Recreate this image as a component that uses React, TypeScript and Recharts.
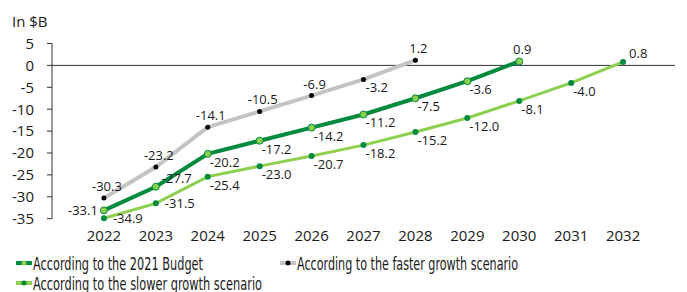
import { Line, LineChart, ReferenceLine, XAxis, YAxis } from "recharts";

const years = [2022, 2023, 2024, 2025, 2026, 2027, 2028, 2029, 2030, 2031, 2032];
const budget = [-33.1, -27.7, -20.2, -17.2, -14.2, -11.2, -7.5, -3.6, 0.9];
const faster = [-30.3, -23.2, -14.1, -10.5, -6.9, -3.2, 1.2];
const slower = [-34.9, -31.5, -25.4, -23.0, -20.7, -18.2, -15.2, -12.0, -8.1, -4.0, 0.8];
const yTicks = [5, 0, -5, -10, -15, -20, -25, -30, -35];

// where each value label sits relative to its point
const budgetPlace = ["left", "rightAbove", "rightBelow", "rightBelow", "rightBelow", "rightBelow", "rightBelow", "rightBelow", "above"];
const fasterPlace = ["above", "above", "above", "above", "above", "rightBelow", "above"];
const slowerPlace = ["right", "right", "rightBelow", "rightBelow", "rightBelow", "rightBelow", "rightBelow", "rightBelow", "rightBelow", "rightBelow", "rightAbove"];

const data = years.map((year, i) => ({
  year,
  budget: budget[i],
  faster: faster[i],
  slower: slower[i],
}));

const DARK = "#008a3e";
const LIGHT = "#8dd04f";
const GRAY = "#c4c4c4";
const FONT = "'Open Sans', sans-serif";
const LEGEND_FONT = "'DejaVu Sans Condensed', 'Open Sans', sans-serif";

const makeLabel = (places: string[]) => (props: any) => {
  const { x, y, value, index } = props;
  if (value === undefined || value === null) return null;
  const place = places[index];
  let tx = x;
  let ty = y;
  let anchor: "start" | "middle" | "end" = "middle";
  if (place === "left") {
    tx = x - 6;
    anchor = "end";
  } else if (place === "right") {
    tx = x + 9;
    anchor = "start";
  } else if (place === "rightBelow") {
    tx = x + 2;
    ty = y + 8;
    anchor = "start";
  } else if (place === "rightAbove") {
    tx = x + 6;
    ty = y - 9;
    anchor = "start";
  } else {
    tx = x + 3;
    ty = y - 12;
  }
  return (
    <text
      key={`l-${index}`}
      x={tx}
      y={ty}
      textAnchor={anchor}
      dominantBaseline="central"
      fontSize={13}
      fontFamily={FONT}
      fill="#1a1a1a"
    >
      {value.toFixed(1)}
    </text>
  );
};

const YearTick = (props: any) => {
  const { x, y, payload } = props;
  return (
    <text x={x} y={y + 16} textAnchor="middle" dominantBaseline="central" fontSize={15} fontFamily={FONT} fill="#1a1a1a">
      {payload.value}
    </text>
  );
};

const legendItems = [
  { label: "According to the 2021 Budget", line: DARK, dot: LIGHT, left: 16, cy: 263, width: 170 },
  { label: "According to the faster growth scenario", line: GRAY, dot: "#000", left: 280, cy: 263, width: 221 },
  { label: "According to the slower growth scenario", line: LIGHT, dot: DARK, left: 16, cy: 283, width: 229 },
];

export default function App() {
  return (
    <div style={{ position: "absolute", left: 0, top: 0, width: 687, height: 292, background: "#fff" }}>
      <div style={{ position: "absolute", left: 12, top: 11, fontFamily: FONT, fontSize: 15, color: "#1a1a1a" }}>In $B</div>
      <LineChart width={687} height={292} data={data} margin={{ top: 43.5, right: 12, left: 0, bottom: 43.3 }}>
        <XAxis
          dataKey="year"
          type="number"
          domain={[2021, 2033]}
          ticks={years}
          axisLine={false}
          tickLine={false}
          tickSize={0}
          tickMargin={0}
          height={30}
          tick={<YearTick />}
        />
        <YAxis
          type="number"
          domain={[-35, 5]}
          ticks={yTicks}
          width={52}
          interval={0}
          axisLine={{ stroke: "#333" }}
          tickLine={{ stroke: "#333" }}
          tickSize={5}
          tickMargin={13}
          tick={{ fontSize: 15, fontFamily: FONT, fill: "#1a1a1a" }}
        />
        <ReferenceLine y={0} stroke="#333" strokeWidth={1} />
        <Line
          dataKey="faster"
          stroke={GRAY}
          strokeWidth={4}
          dot={{ r: 2.5, fill: "#000", stroke: "none" }}
          isAnimationActive={false}
          label={makeLabel(fasterPlace)}
        />
        <Line
          dataKey="slower"
          stroke={LIGHT}
          strokeWidth={3}
          dot={{ r: 3, fill: DARK, stroke: "none" }}
          isAnimationActive={false}
          label={makeLabel(slowerPlace)}
        />
        <Line
          dataKey="budget"
          stroke={DARK}
          strokeWidth={4}
          dot={{ r: 3.5, fill: LIGHT, stroke: DARK, strokeWidth: 1 }}
          isAnimationActive={false}
          label={makeLabel(budgetPlace)}
        />
      </LineChart>
      <svg width={687} height={50} style={{ position: "absolute", left: 0, top: 248 }}>
        {legendItems.map((it) => (
          <g key={it.label}>
            <line x1={it.left} y1={it.cy - 248} x2={it.left + 16} y2={it.cy - 248} stroke={it.line} strokeWidth={4} />
            <circle cx={it.left + 8} cy={it.cy - 248} r={2.5} fill={it.dot} />
            <text
              x={it.left + 17}
              y={it.cy - 248}
              dominantBaseline="central"
              fontFamily={LEGEND_FONT}
              fontSize={18}
              fill="#1a1a1a"
              textLength={it.width}
              lengthAdjust="spacingAndGlyphs"
            >
              {it.label}
            </text>
          </g>
        ))}
      </svg>
    </div>
  );
}
